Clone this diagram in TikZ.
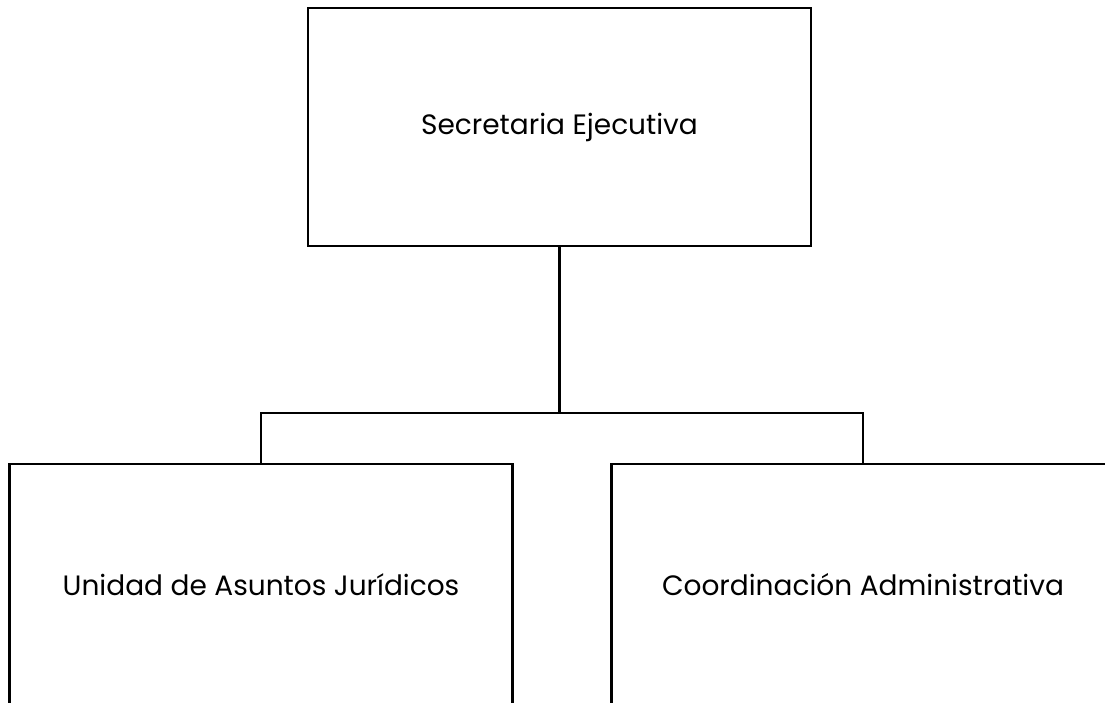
\documentclass[tikz,border=0pt]{standalone}
\usepackage{fontspec}
\setmainfont{Poppins}
\usepackage{tikz}
\usetikzlibrary{positioning, calc}

\begin{document}
\begin{tikzpicture}[
    x=1pt, y=-1pt,
    box/.style={rectangle, draw, line width=2.4pt, minimum width=503pt, minimum height=238pt, align=center, font=\fontsize{28}{32}\selectfont},
    link/.style={line width=2.4pt}
]
    \useasboundingbox (0,0) rectangle (1105,703);

    % Secretaria
    \node[box] (secretaria) at (559.5, 127) {Secretaria Ejecutiva};

    % Unidades
    \node[box, minimum height=242pt] (juridicos) at (261, 585) {Unidad de Asuntos Jurídicos};
    \node[box, minimum height=242pt] (coordinacion) at (863, 585) {Coordinación Administrativa};

    % Branch point
    \coordinate (branch) at (559.5, 413);

    % Lines
    \draw[link] (secretaria.south) -- (branch);
    \draw[link] (juridicos.north) |- (branch) -| (coordinacion.north);

\end{tikzpicture}
\end{document}
